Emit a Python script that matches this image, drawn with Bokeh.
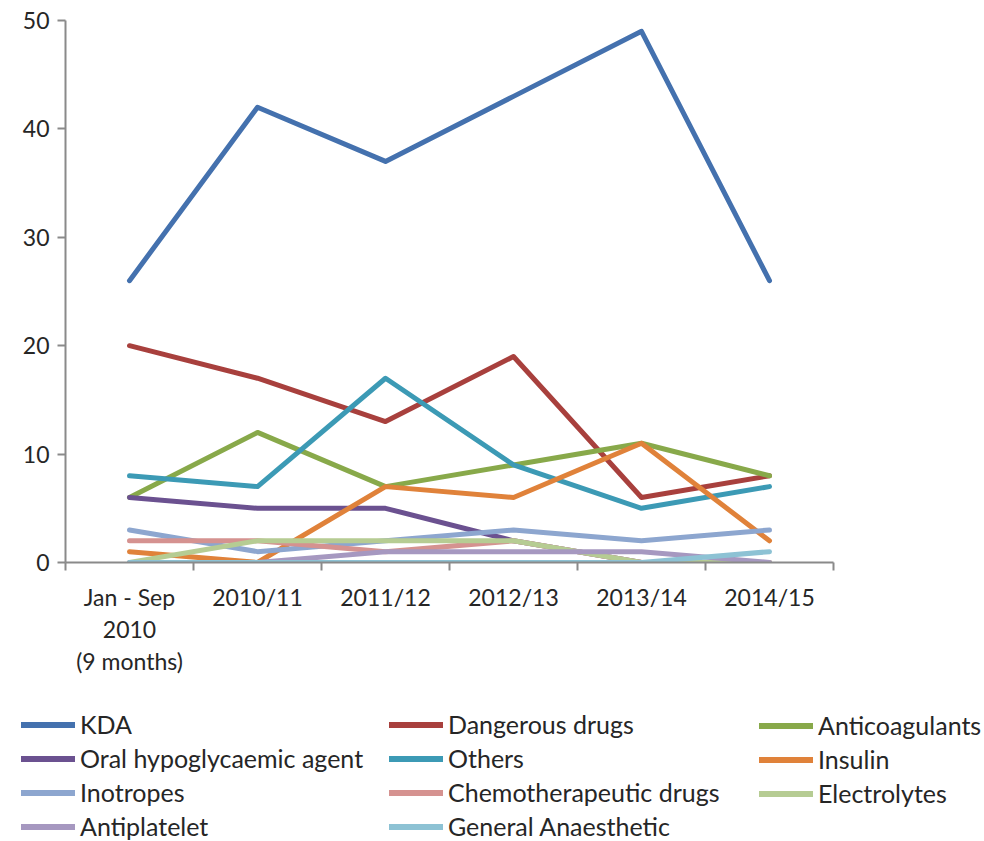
from bokeh.plotting import figure
from bokeh.models import Range1d, FixedTicker, Legend, LegendItem, LinearAxis
from bokeh.embed import file_html
from bokeh.resources import INLINE

# Reporting periods
categories = ["Jan - Sep\n2010\n(9 months)", "2010/11", "2011/12", "2012/13", "2013/14", "2014/15"]

# Incidents per drug group and period
kda = [26, 42, 37, 43, 49, 26]
dangerous_drugs = [20, 17, 13, 19, 6, 8]
anticoagulants = [6, 12, 7, 9, 11, 8]
oral_hypoglycaemic = [6, 5, 5, 2, 0, 0]
others = [8, 7, 17, 9, 5, 7]
insulin = [1, 0, 7, 6, 11, 2]
inotropes = [3, 1, 2, 3, 2, 3]
chemotherapeutic = [2, 2, 1, 2, 0, 0]
electrolytes = [0, 2, 2, 2, 0, 0]
antiplatelet = [0, 0, 1, 1, 1, 0]
general_anaesthetic = [0, 0, 0, 0, 0, 1]

y_ticks = [0, 10, 20, 30, 40, 50]

series = [
    ("KDA", kda, "#4471AE"),
    ("Dangerous drugs", dangerous_drugs, "#A8403D"),
    ("Anticoagulants", anticoagulants, "#88A94A"),
    ("Oral hypoglycaemic agent", oral_hypoglycaemic, "#6B5190"),
    ("Others", others, "#3C9AB5"),
    ("Insulin", insulin, "#E0823A"),
    ("Inotropes", inotropes, "#8DA6CF"),
    ("Chemotherapeutic drugs", chemotherapeutic, "#D59290"),
    ("Electrolytes", electrolytes, "#B6CC93"),
    ("Antiplatelet", antiplatelet, "#A698C0"),
    ("General Anaesthetic", general_anaesthetic, "#8DC2D4"),
]

FONT = "Lato"
TEXT = "#262626"
AXIS = "#8a8a8a"
LW = 5

n = len(categories)
xs = [i + 0.5 for i in range(n)]

# ---- main chart ----
p = figure(width=984, height=700, output_backend="svg", toolbar_location=None,
           x_range=Range1d(0, n), y_range=Range1d(0, 50),
           min_border_left=65, min_border_right=151,
           min_border_top=20, min_border_bottom=138,
           x_axis_type=None, y_axis_type=None)
p.outline_line_color = None
p.xgrid.visible = False
p.ygrid.visible = False
p.border_fill_color = "white"

yax = LinearAxis(ticker=FixedTicker(ticks=y_ticks, minor_ticks=[]))
yax.axis_line_color = AXIS
yax.axis_line_width = 2
yax.major_tick_line_color = AXIS
yax.major_tick_line_width = 2
yax.major_tick_out = 8
yax.major_tick_in = 0
yax.minor_tick_out = 0
yax.minor_tick_in = 0
yax.major_label_text_font = FONT
yax.major_label_text_font_size = "23px"
yax.major_label_text_color = TEXT
yax.major_label_standoff = 8
p.add_layout(yax, "left")

# labels centred on periods, ticks on period boundaries
xax = LinearAxis(ticker=FixedTicker(ticks=xs, minor_ticks=list(range(n + 1))))
xax.major_label_overrides = {x: c for x, c in zip(xs, categories)}
xax.axis_line_color = AXIS
xax.axis_line_width = 2
xax.major_tick_out = 0
xax.major_tick_in = 0
xax.minor_tick_line_color = AXIS
xax.minor_tick_line_width = 2
xax.minor_tick_out = 8
xax.minor_tick_in = 0
xax.major_label_text_font = FONT
xax.major_label_text_font_size = "23px"
xax.major_label_text_color = TEXT
xax.major_label_text_line_height = 1.16
xax.major_label_standoff = 12
p.add_layout(xax, "below")

for name, vals, color in series:
    p.line(xs, vals, line_color=color, line_width=LW,
           line_cap="round", line_join="round")

# ---- legend strip: a separate root whose frame spans the full width ----
LEG_H = 141
leg = figure(width=984, height=LEG_H, output_backend="svg", toolbar_location=None,
             x_range=Range1d(0, n), y_range=Range1d(-200, -100),
             min_border=0, x_axis_type=None, y_axis_type=None)
leg.outline_line_color = None
leg.xgrid.visible = False
leg.ygrid.visible = False
leg.border_fill_color = "white"

keys = []
for name, vals, color in series:
    r = leg.line(xs, vals, line_color=color, line_width=6, line_cap="round")
    keys.append((name, r))

columns = [[0, 3, 6, 9], [1, 4, 7, 10], [2, 5, 8]]
col_x = [21, 389, 759]
row_h = 29     # height of one legend row
row_gap = 4
top = 13
for cx, idxs in zip(col_x, columns):
    items = [LegendItem(label=keys[i][0], renderers=[keys[i][1]]) for i in idxs]
    h = len(idxs) * row_h + (len(idxs) - 1) * row_gap
    lg = Legend(items=items, location=(cx, LEG_H - (top + h)),
                orientation="vertical",
                glyph_width=54, glyph_height=row_h, label_height=row_h,
                label_standoff=5, spacing=row_gap, padding=0, margin=0,
                border_line_color=None, background_fill_alpha=0,
                label_text_font=FONT, label_text_font_size="25px",
                label_text_color=TEXT)
    leg.add_layout(lg, "center")

open("out.html", "w").write(file_html([p, leg], INLINE))
